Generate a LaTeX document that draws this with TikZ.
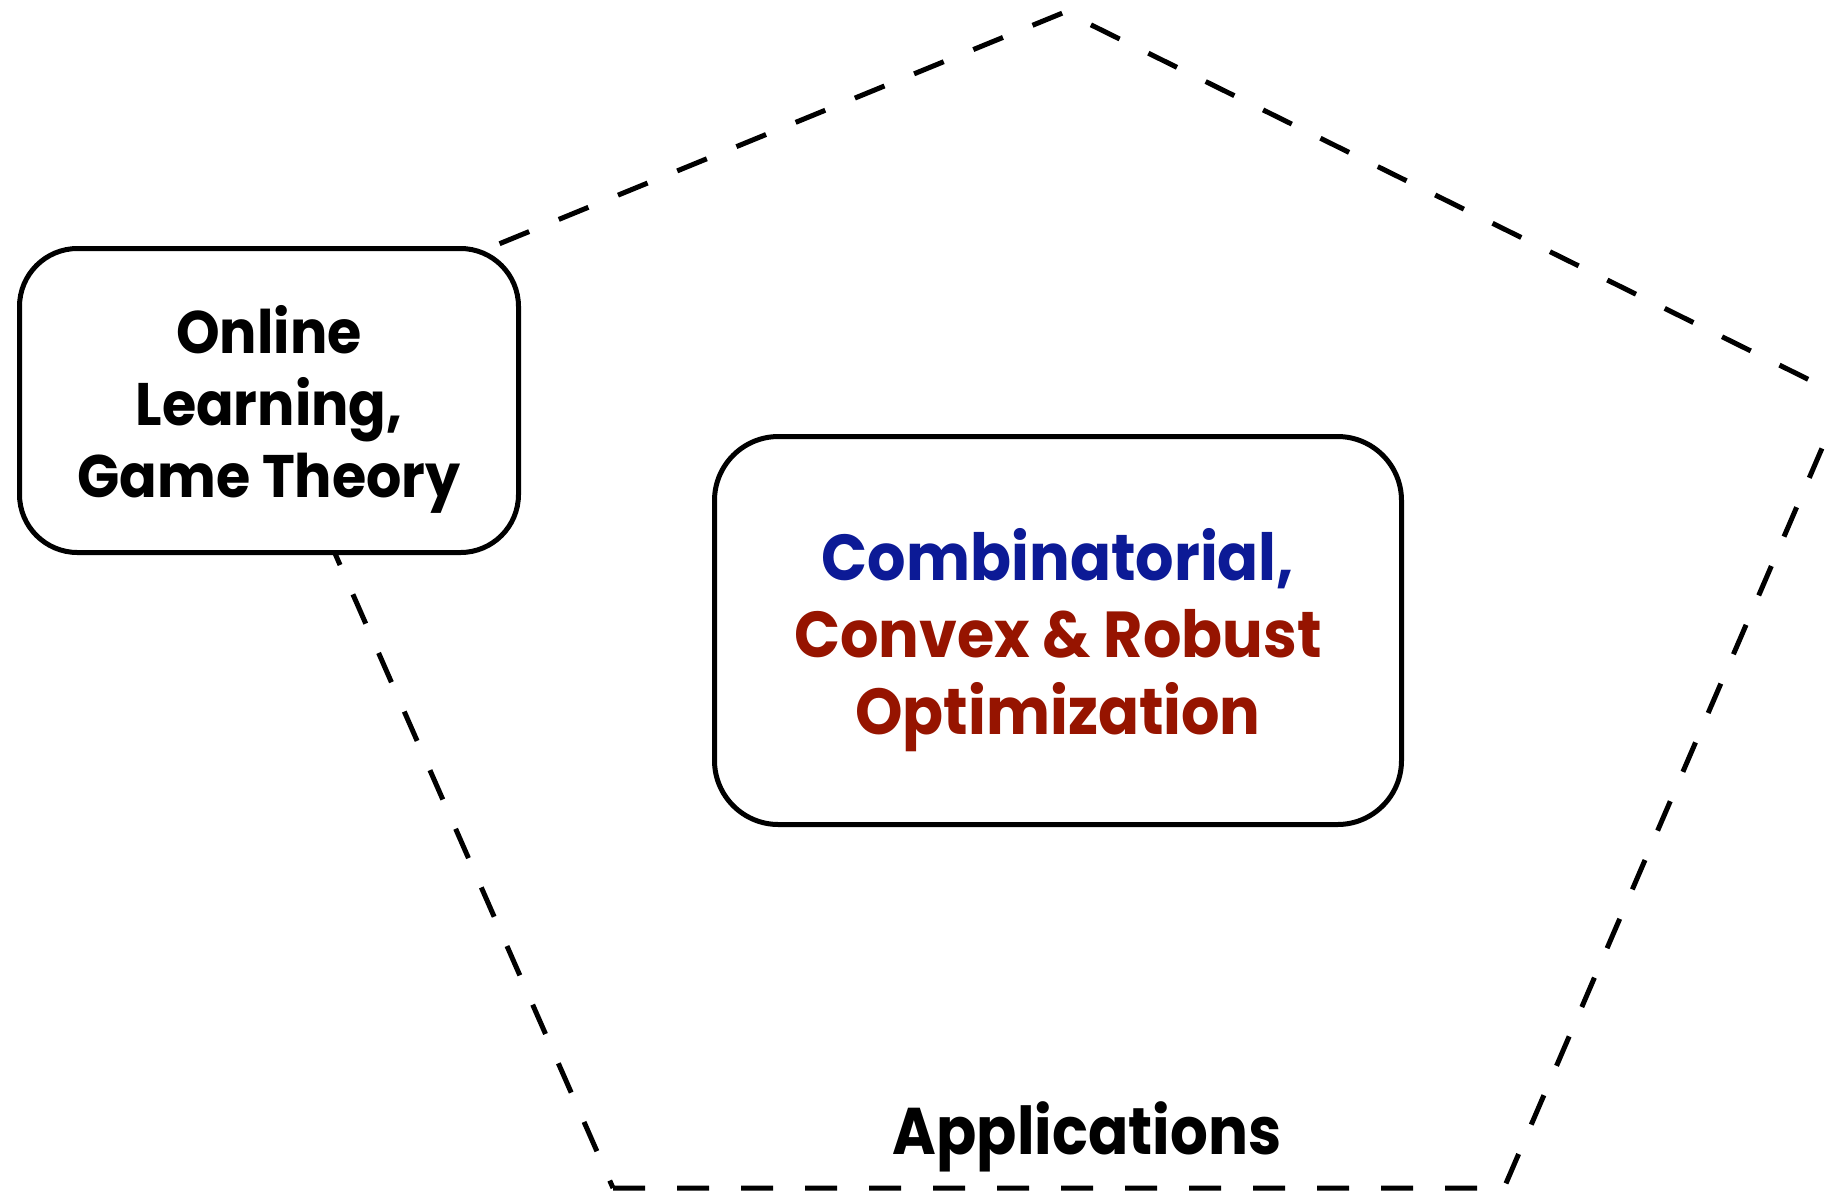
\documentclass[tikz,border=0pt]{standalone}
\usepackage{fontspec}
\setmainfont{Poppins}
\definecolor{cblue}{RGB}{12,26,150}
\definecolor{cred}{RGB}{150,20,0}
\begin{document}
\begin{tikzpicture}[x=1pt,y=-1pt,
  box/.style={draw=black, line width=5pt, fill=white, inner sep=0pt},
  txt/.style={inner sep=0pt, align=center},
  pent/.style={draw=black, line width=5pt, dash pattern=on 32pt off 32pt, line join=miter}]
\useasboundingbox (0,0) rectangle (1831,1195);
\clip (0,0) rectangle (1831,1195);
\coordinate (T) at (1065,12);
\coordinate (R) at (1844,397);
\coordinate (BR) at (1504,1188);
\coordinate (BL) at (613,1188);
\coordinate (L) at (245,348);
\draw[pent] (BL) -- (BR) -- (R) -- (T) -- (L) -- cycle;
\node[box, rounded corners=58pt, minimum width=499pt, minimum height=304pt] (ol) at (269,400.5) {};
\node[txt, font=\bfseries\fontsize{60}{72}\selectfont] (olt) at (269,410.6)
  {\scalebox{0.925}[1]{\begin{tabular}{@{}c@{}}Online\\Learning,\\Game Theory\end{tabular}}};
\node[box, rounded corners=64pt, minimum width=687pt, minimum height=388pt] (cc) at (1058,630.5) {};
\node[txt, font=\bfseries\fontsize{65}{77}\selectfont] (cct) at (1058,641.6)
  {\scalebox{0.93}[1]{\begin{tabular}{@{}c@{}}\textcolor{cblue}{Combinatorial,}\\\textcolor{cred}{Convex \& Robust}\\\textcolor{cred}{Optimization}\end{tabular}}};
\node[txt, anchor=base, font=\bfseries\fontsize{66}{76}\selectfont] (app) at (1087,1154) {\scalebox{0.9}[1]{Applications}};
\end{tikzpicture}
\end{document}
